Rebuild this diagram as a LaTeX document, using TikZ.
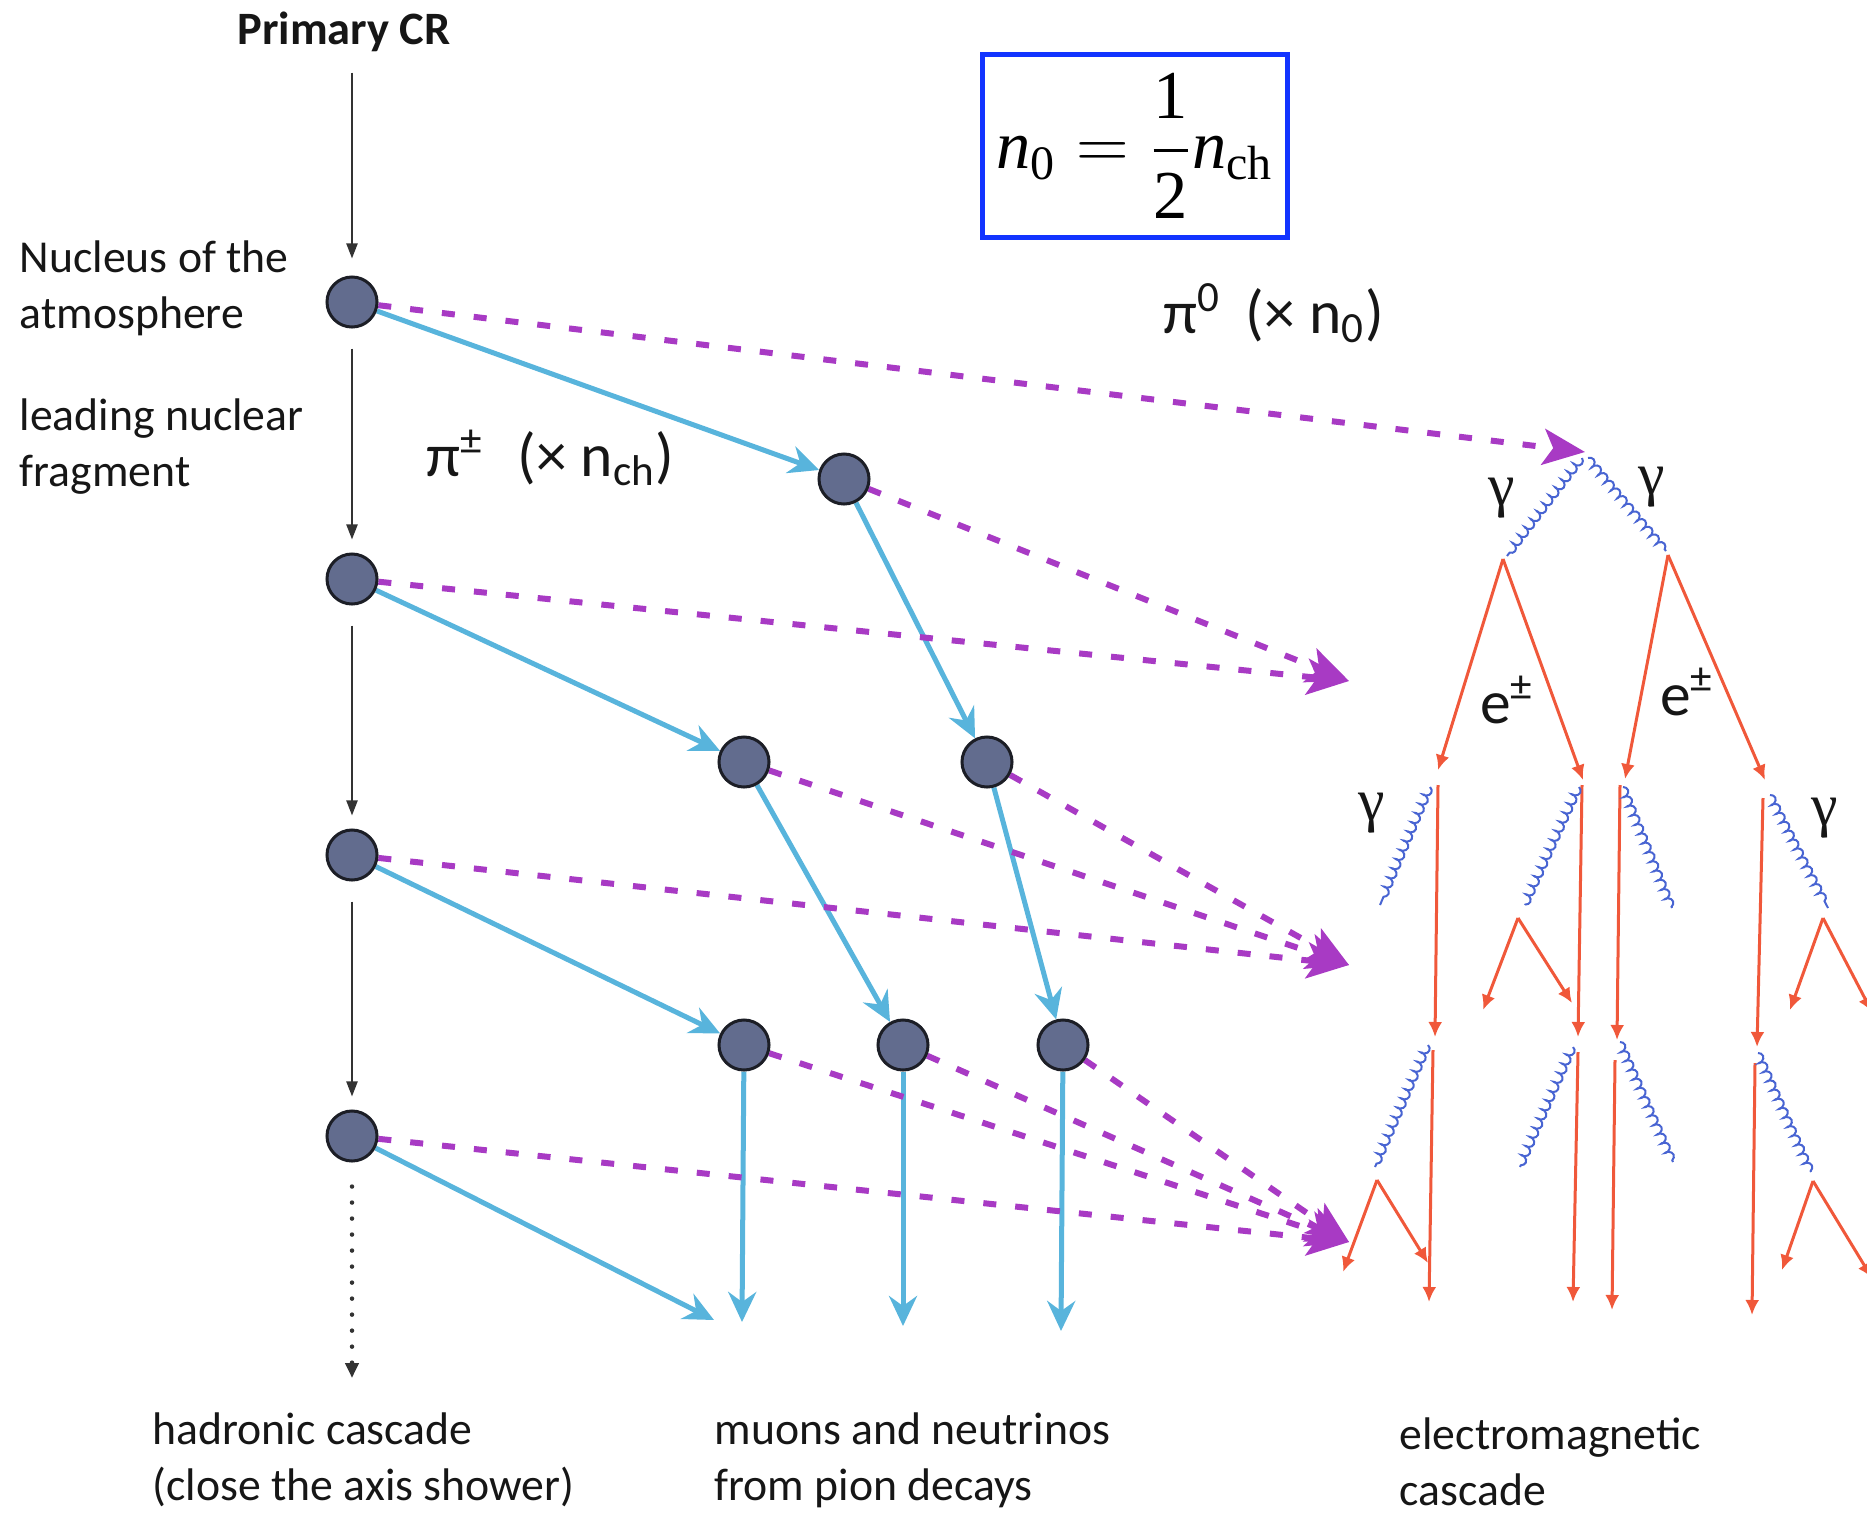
\documentclass[tikz,border=0pt]{standalone}
\usepackage{amsmath}
\usepackage{fontspec}
\setmainfont{Carlito}
\newfontfamily\tnr{Liberation Serif}
\usetikzlibrary{arrows.meta,decorations.pathmorphing,backgrounds}
\definecolor{pionblue}{RGB}{88,180,220}
\definecolor{pizero}{RGB}{168,58,196}
\definecolor{nodefill}{RGB}{98,108,142}
\definecolor{nodeedge}{RGB}{28,30,38}
\definecolor{elecred}{RGB}{240,88,58}
\definecolor{photblue}{RGB}{72,100,210}
\definecolor{boxblue}{RGB}{18,52,255}
\definecolor{txt}{RGB}{22,22,22}
\tikzset{
  part/.style={circle, draw=nodeedge, fill=nodefill, line width=0.03cm, minimum size=0.5cm, inner sep=0pt},
  hadr/.style={draw=black!80, line width=0.022cm, -{Triangle[length=0.15cm,width=0.11cm]}},
  hdot/.style={draw=black!80, line width=0.045cm, line cap=round, dash pattern=on 0pt off 0.16cm, -{Triangle[length=0.15cm,width=0.13cm]}},
  pion/.style={draw=pionblue, line width=0.05cm, -{Stealth[length=0.3cm,width=0.28cm,inset=0.1cm]}},
  neut/.style={draw=pizero, line width=0.06cm, dash pattern=on 0.13cm off 0.19cm, -{Stealth[length=0.42cm,width=0.36cm,inset=0.1cm]}},
  elec/.style={draw=elecred, line width=0.03cm, -{Latex[length=0.15cm,width=0.14cm]}},
  phot/.style={draw=photblue, line width=0.02cm, decorate, decoration={coil, aspect=0.6, segment length=0.1cm, amplitude=0.035cm}},
  lbl/.style={text=txt, font=\fontsize{13}{15.9}\selectfont, align=left, inner sep=0pt},
  plbl/.style={text=txt, font=\fontsize{17.5}{19}\selectfont, inner sep=0pt},
  gam/.style={text=txt, font=\tnr\fontsize{17}{17}\selectfont, inner sep=0pt},
  elbl/.style={text=txt, font=\fontsize{17.5}{17.5}\selectfont, inner sep=0pt},
}
\begin{document}
\begin{tikzpicture}[x=0.01cm,y=-0.01cm]
\useasboundingbox (0,0) rectangle (1867,1512);
\clip (0,0) rectangle (1867,1512);

% ---------- texts ----------
\node[lbl, font=\bfseries\fontsize{13.2}{15}\selectfont] (pcr) at (344,32) {Primary CR};
\node[lbl, anchor=west] (nuc) at (19,288) {Nucleus of the\\atmosphere};
\node[lbl, anchor=west] (lead) at (19,447) {leading nuclear\\fragment};
\node[lbl, anchor=west] (had) at (152,1460) {hadronic cascade\\(close the axis shower)};
\node[lbl, anchor=west] (mu) at (714,1460) {muons and neutrinos\\from pion decays};
\node[lbl, anchor=west] (emc) at (1399,1462) {electromagnetic\\cascade};
\node[plbl, anchor=west] (pich) at (426,458) {π\textsuperscript{±}\hspace{0.55em}(×~n\textsubscript{ch})};
\node[plbl, anchor=west] (pizl) at (1163,313) {π\textsuperscript{0}\hspace{0.4em}(×~n\textsubscript{0})};
\node[draw=boxblue, line width=0.05cm, minimum width=3.04cm, minimum height=1.82cm, inner sep=0pt] (frm) at (1135,146)
  {\fontsize{19.5}{23}\selectfont $\displaystyle \text{\tnr\itshape n}_{\text{\tnr 0}}=\frac{\text{\tnr 1}}{\text{\tnr 2}}\text{\tnr\itshape n}_{\text{\tnr ch}}$};

% ---------- hadronic nodes ----------
\node[part] (n1) at (352,302) {};
\node[part] (n2) at (352,579) {};
\node[part] (n3) at (352,855) {};
\node[part] (n4) at (352,1136) {};
\node[part] (p1) at (844,479) {};
\node[part] (p2a) at (744,762) {};
\node[part] (p2b) at (987,762) {};
\node[part] (p3a) at (744,1045) {};
\node[part] (p3b) at (903,1045) {};
\node[part] (p3c) at (1063,1045) {};

% free ends
\coordinate (hend) at (352,1378);
\coordinate (b4) at (714,1320);
\coordinate (b5) at (742,1322);
\coordinate (b6) at (903,1326);
\coordinate (b7) at (1061,1331);
\coordinate (t0) at (1585,452);
\coordinate (t1) at (1349,681);
\coordinate (t2) at (1349,965);
\coordinate (t3) at (1349,1242);

\begin{scope}[on background layer]
  % hadronic axis
  \draw[hadr, shorten <=0.2cm, shorten >=0.17cm] (pcr.south -| n1) -- (n1);
  \draw[hadr, shorten <=0.2cm, shorten >=0.13cm] (n1) -- (n2);
  \draw[hadr, shorten <=0.2cm, shorten >=0.13cm] (n2) -- (n3);
  \draw[hadr, shorten <=0.2cm, shorten >=0.13cm] (n3) -- (n4);
  \draw[hdot, shorten <=0.24cm] (n4) -- (hend);
  % charged pions
  \draw[pion] (n1) -- (p1);
  \draw[pion] (p1) -- (p2b);
  \draw[pion] (n2) -- (p2a);
  \draw[pion] (p2a) -- (p3b);
  \draw[pion] (p2b) -- (p3c);
  \draw[pion] (n3) -- (p3a);
  \draw[pion] (n4) -- (b4);
  \draw[pion] (p3a) -- (b5);
  \draw[pion] (p3b) -- (b6);
  \draw[pion] (p3c) -- (b7);
  % neutral pions
  \draw[neut] (n1) -- (t0);
  \draw[neut] (p1) -- (t1);
  \draw[neut] (n2) -- (t1);
  \draw[neut] (p2a) -- (t2);
  \draw[neut] (p2b) -- (t2);
  \draw[neut] (n3) -- (t2);
  \draw[neut] (p3a) -- (t3);
  \draw[neut] (p3b) -- (t3);
  \draw[neut] (p3c) -- (t3);
  \draw[neut] (n4) -- (t3);
\end{scope}

% ---------- electromagnetic cascade ----------
% first photons
\coordinate (gL) at (1503,559);
\coordinate (gR) at (1668,555);
\draw[phot] (1582,458) -- (1507,556);
\draw[phot] (1588,458) -- (1666,551);
\node[gam] (ga1) at (1502,498) {γ};
\node[gam] (ga2) at (1652,487) {γ};
% first pairs
\coordinate (eL1) at (1438,770);
\coordinate (eL2) at (1583,780);
\coordinate (eR1) at (1625,779);
\coordinate (eR2) at (1765,780);
\draw[elec] (gL) -- (eL1);
\draw[elec] (gL) -- (eL2);
\draw[elec] (gR) -- (eR1);
\draw[elec] (gR) -- (eR2);
\node[elbl] (e1) at (1507,700) {e\textsuperscript{±}};
\node[elbl] (e2) at (1687,692) {e\textsuperscript{±}};
\node[gam] (ga3) at (1372,813) {γ};
\node[gam] (ga4) at (1825,818) {γ};

% second tier
\coordinate (u1t) at (1438,785); \coordinate (u1b) at (1435,1037);
\coordinate (u2t) at (1582,785); \coordinate (u2b) at (1578,1037);
\coordinate (u3t) at (1620,785); \coordinate (u3b) at (1617,1040);
\coordinate (u4t) at (1763,798); \coordinate (u4b) at (1757,1047);
\draw[elec] (u1t) -- (u1b);
\draw[elec] (u2t) -- (u2b);
\draw[elec] (u3t) -- (u3b);
\draw[elec] (u4t) -- (u4b);
\draw[phot] (1430,787) -- (1380,905);
\draw[phot] (1579,787) -- (1525,905);
\draw[phot] (1623,787) -- (1672,908);
\draw[phot] (1770,795) -- (1828,908);
\coordinate (v2) at (1518,918);
\coordinate (v4) at (1823,918);
\draw[elec] (v2) -- (1483,1010);
\draw[elec] (v2) -- (1572,1003);
\draw[elec] (v4) -- (1790,1010);
\draw[elec] (v4) -- (1872,1012);

% third tier
\coordinate (w1t) at (1433,1050); \coordinate (w1b) at (1429,1302);
\coordinate (w2t) at (1578,1052); \coordinate (w2b) at (1573,1302);
\coordinate (w3t) at (1615,1060); \coordinate (w3b) at (1612,1310);
\coordinate (w4t) at (1755,1063); \coordinate (w4b) at (1752,1315);
\draw[elec] (w1t) -- (w1b);
\draw[elec] (w2t) -- (w2b);
\draw[elec] (w3t) -- (w3b);
\draw[elec] (w4t) -- (w4b);
\draw[phot] (1428,1045) -- (1375,1167);
\draw[phot] (1573,1047) -- (1520,1167);
\draw[phot] (1620,1042) -- (1673,1162);
\draw[phot] (1758,1053) -- (1811,1172);
\coordinate (x1) at (1377,1180);
\coordinate (x4) at (1813,1181);
\draw[elec] (x1) -- (1343,1272);
\draw[elec] (x1) -- (1428,1263);
\draw[elec] (x4) -- (1782,1270);
\draw[elec] (x4) -- (1872,1278);
\end{tikzpicture}
\end{document}
